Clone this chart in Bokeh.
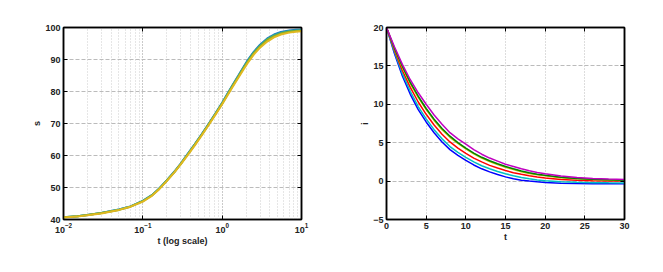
from bokeh.plotting import figure
from bokeh.layouts import row
from bokeh.models import LinearAxis, LogAxis, FixedTicker, Range1d
from bokeh.embed import file_html
from bokeh.resources import INLINE

# ---------------- data: left panel (s vs t, log scale) ----------------
t_left = [0.01, 0.015, 0.02, 0.03, 0.05, 0.07, 0.1, 0.13, 0.16, 0.2, 0.25, 0.3, 0.37, 0.45, 0.55,
          0.68, 0.82, 1.0, 1.16, 1.36, 1.6, 1.85, 2.1, 2.5, 3.0, 3.7, 4.5, 5.5, 7.0, 8.5, 10.0]
s_blue = [40.7, 41.0, 41.4, 42.0, 43.1, 44.1, 45.8, 47.6, 49.6, 52.2, 55.0, 57.5, 60.6, 63.5, 66.6,
          70.0, 73.1, 76.5, 79.2, 82.1, 85.0, 87.6, 89.8, 92.4, 94.6, 96.6, 97.8, 98.6, 99.1, 99.3, 99.4]
s_teal = [40.7, 41.0, 41.4, 42.0, 43.1, 44.1, 45.8, 47.6, 49.6, 52.2, 54.9, 57.4, 60.5, 63.4, 66.5,
          69.9, 73.0, 76.4, 79.1, 82.0, 84.8, 87.4, 89.6, 92.2, 94.4, 96.4, 97.6, 98.4, 98.9, 99.1, 99.2]
s_green = [40.7, 41.0, 41.4, 42.0, 43.0, 44.0, 45.7, 47.5, 49.5, 52.1, 54.8, 57.3, 60.4, 63.3, 66.4,
           69.8, 72.9, 76.2, 78.9, 81.8, 84.6, 87.2, 89.3, 91.9, 94.1, 96.1, 97.3, 98.1, 98.7, 98.9, 99.0]
s_yellow = [40.6, 40.9, 41.3, 41.9, 43.0, 44.0, 45.6, 47.4, 49.4, 52.0, 54.7, 57.2, 60.2, 63.1, 66.2,
            69.6, 72.7, 76.0, 78.7, 81.5, 84.3, 86.8, 88.9, 91.5, 93.7, 95.6, 96.9, 97.8, 98.4, 98.7, 98.8]
left_series = [(s_blue, "#1f77c4"), (s_teal, "#2aa5a0"), (s_green, "#8fb020"), (s_yellow, "#e0b820")]
left_yticks = [40, 50, 60, 70, 80, 90, 100]

# ---------------- data: right panel (i vs t) ----------------
t_right = [0, 1, 2, 3, 4, 5, 6, 7, 8, 9, 10, 11, 12, 13, 14, 15, 16, 17, 18, 19, 20, 22, 24, 26, 28, 30]
i_blue = [20, 16.6, 13.7, 11.3, 9.3, 7.7, 6.3, 5.1, 4.1, 3.35, 2.7, 2.1, 1.6, 1.2, 0.85, 0.55,
          0.3, 0.12, 0.0, -0.1, -0.18, -0.27, -0.32, -0.34, -0.35, -0.35]
i_cyan = [20, 16.8, 14.0, 11.7, 9.7, 8.1, 6.7, 5.5, 4.5, 3.75, 3.1, 2.5, 2.0, 1.6, 1.25, 0.95,
          0.7, 0.48, 0.3, 0.15, 0.05, -0.08, -0.16, -0.2, -0.23, -0.25]
i_red = [20, 17.0, 14.4, 12.2, 10.3, 8.7, 7.3, 6.1, 5.1, 4.3, 3.6, 3.0, 2.5, 2.05, 1.7, 1.38,
         1.1, 0.88, 0.7, 0.54, 0.4, 0.22, 0.12, 0.06, 0.02, 0.0]
i_yellow = [20, 17.2, 14.8, 12.7, 10.9, 9.3, 7.9, 6.7, 5.7, 4.9, 4.2, 3.55, 3.0, 2.55, 2.15, 1.8,
            1.5, 1.23, 1.0, 0.83, 0.68, 0.45, 0.3, 0.2, 0.14, 0.1]
i_green = [20, 17.3, 14.95, 12.85, 11.05, 9.45, 8.05, 6.85, 5.85, 5.0, 4.3, 3.65, 3.1, 2.65, 2.25, 1.9,
           1.6, 1.32, 1.08, 0.9, 0.75, 0.5, 0.34, 0.23, 0.16, 0.12]
i_magenta = [20, 17.5, 15.2, 13.2, 11.5, 10.0, 8.6, 7.4, 6.3, 5.5, 4.8, 4.1, 3.5, 3.0, 2.6, 2.2,
             1.9, 1.6, 1.35, 1.13, 0.95, 0.67, 0.47, 0.34, 0.26, 0.2]
right_series = [(i_blue, "#0000ff"), (i_cyan, "#00c0c0"), (i_red, "#ff0000"),
                (i_yellow, "#c0c000"), (i_green, "#008000"), (i_magenta, "#c000c0")]
right_xticks = [0, 5, 10, 15, 20, 25, 30]
right_yticks = [-5, 0, 5, 10, 15, 20]

FONT = "Liberation Sans"


def style_axis(ax, labels=True):
    ax.major_tick_in = 4
    ax.major_tick_out = 0
    ax.minor_tick_in = 0
    ax.minor_tick_out = 0
    ax.axis_line_color = "black"
    ax.axis_line_width = 1.5
    ax.major_tick_line_color = "black"
    ax.major_label_text_font = FONT
    ax.major_label_text_font_style = "bold"
    ax.major_label_text_font_size = "9px"
    ax.major_label_text_color = "#222222"
    ax.axis_label_text_font = FONT
    ax.axis_label_text_font_style = "bold"
    ax.axis_label_text_font_size = "9px"
    ax.axis_label_text_color = "#222222"
    ax.axis_label_standoff = 0
    ax.major_label_standoff = 3
    if not labels:
        ax.major_label_text_alpha = 0.0
        ax.major_label_standoff = 0


def style_grid(p):
    p.xgrid.grid_line_color = "#bbbbbb"
    p.xgrid.grid_line_dash = "1 2"
    p.ygrid.grid_line_color = "#bbbbbb"
    p.ygrid.grid_line_dash = "4 2"
    p.outline_line_color = "black"
    p.outline_line_width = 1.5
    p.background_fill_color = "white"
    p.border_fill_color = "white"


# ---------------- left figure ----------------
p1 = figure(x_axis_type="log", x_range=Range1d(0.01, 10), y_range=Range1d(40, 100),
            frame_width=238, frame_height=192, min_border_left=63, min_border_right=33,
            min_border_top=27, min_border_bottom=40,
            output_backend="svg", toolbar_location=None)
for ys, c in left_series:
    p1.line(t_left, ys, line_color=c, line_width=2)
p1.yaxis.ticker = FixedTicker(ticks=left_yticks)
p1.xaxis.axis_label = "t (log scale)"
p1.yaxis.axis_label = "s"
style_grid(p1)
p1.xgrid.minor_grid_line_color = "#cccccc"
p1.xgrid.minor_grid_line_dash = "1 2"
style_axis(p1.xaxis[0])
style_axis(p1.yaxis[0])
ax_r = LinearAxis(ticker=FixedTicker(ticks=left_yticks))
style_axis(ax_r, labels=False)
p1.add_layout(ax_r, "right")
ax_t = LogAxis()
style_axis(ax_t, labels=False)
p1.add_layout(ax_t, "above")

# ---------------- right figure ----------------
p2 = figure(x_range=Range1d(0, 30), y_range=Range1d(-5, 20),
            frame_width=238, frame_height=192, min_border_left=52, min_border_right=30,
            min_border_top=27, min_border_bottom=40,
            output_backend="svg", toolbar_location=None)
for ys, c in right_series:
    p2.line(t_right, ys, line_color=c, line_width=1.5)
p2.xaxis.ticker = FixedTicker(ticks=right_xticks)
p2.yaxis.ticker = FixedTicker(ticks=right_yticks)
p2.xaxis.axis_label = "t"
p2.yaxis.axis_label = "i"
style_grid(p2)
style_axis(p2.xaxis[0])
style_axis(p2.yaxis[0])
ax_r2 = LinearAxis(ticker=FixedTicker(ticks=right_yticks))
style_axis(ax_r2, labels=False)
p2.add_layout(ax_r2, "right")
ax_t2 = LinearAxis(ticker=FixedTicker(ticks=right_xticks))
style_axis(ax_t2, labels=False)
p2.add_layout(ax_t2, "above")

layout = row(p1, p2)
open("out.html", "w").write(file_html(layout, INLINE))
